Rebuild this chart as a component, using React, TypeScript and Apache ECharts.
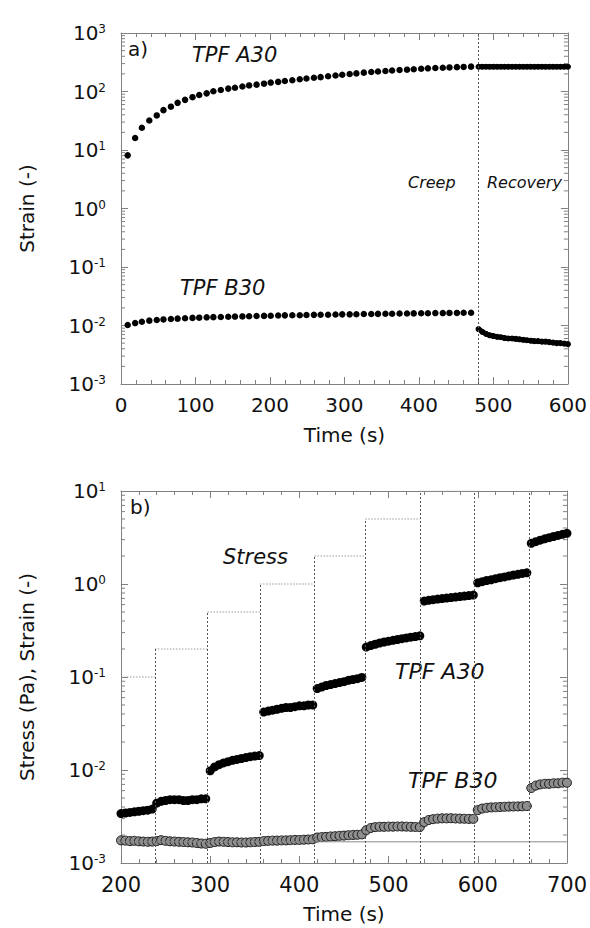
import React, { useEffect, useRef } from "react";
import * as echarts from "echarts";

const FONT = "DejaVu Sans";
const TXT = "#111111";
const AXC = "#808080";

// ---------- panel a) creep / recovery ----------
const creepTime = [9, 19, 28, 38, 48, 57, 67, 76, 86, 96, 105, 115, 124, 134, 144, 153, 163, 172, 182, 192,
  201, 211, 220, 230, 240, 249, 259, 268, 278, 288, 297, 307, 316, 326, 336, 345, 355, 364, 374, 384,
  393, 403, 412, 422, 432, 441, 451, 460, 470];
const creepA30 = [8.1, 16, 24, 32, 39, 48, 55, 64, 72, 80, 87, 93, 101, 106, 112, 116, 122, 127, 131, 136,
  142, 146, 151, 156, 162, 167, 172, 176, 182, 188, 193, 199, 204, 210, 215, 220, 224, 229, 233, 236,
  240, 245, 249, 252, 255, 258, 261, 263, 266];
const creepB30 = [0.0102, 0.0110, 0.0116, 0.0121, 0.0124, 0.0127, 0.0129, 0.0131, 0.0133, 0.0135,
  0.0136, 0.0138, 0.0139, 0.0140, 0.0141, 0.0142, 0.0143, 0.0144, 0.0145, 0.0146,
  0.0147, 0.0148, 0.0149, 0.0150, 0.0150, 0.0151, 0.0152, 0.0153, 0.0153, 0.0154,
  0.0155, 0.0155, 0.0156, 0.0157, 0.0157, 0.0158, 0.0159, 0.0159, 0.0160, 0.0160,
  0.0161, 0.0162, 0.0162, 0.0163, 0.0163, 0.0164, 0.0164, 0.0165, 0.0165];
const recTime = [480, 485, 490, 495, 500, 505, 510, 515, 520, 525, 530, 535, 540, 545, 550, 555, 560, 565,
  570, 575, 580, 585, 590, 595, 600];
const recA30 = [265, 265, 265, 265, 265, 265, 265, 265, 265, 265, 265, 265, 265, 265, 265, 265, 265, 265,
  265, 265, 265, 265, 265, 265, 265];
const recB30 = [0.0087, 0.0078, 0.0072, 0.0068, 0.0066, 0.0064, 0.0063, 0.0061, 0.0060, 0.0060, 0.0059,
  0.0058, 0.0057, 0.0056, 0.0055, 0.0054, 0.0054, 0.0053, 0.0053, 0.0052, 0.0051, 0.0050, 0.0050, 0.0049, 0.0048];
const creepEnd = 480;

// ---------- panel b) stress steps ----------
const stepTime = [200, 238, 297, 356, 417, 474, 535, 596, 658, 700];
const stressLevel = [0.1, 0.2, 0.5, 1, 2, 5, 10, 20, 50];
const baseStrain = 0.00169;

const bTime = [200, 205, 210, 215, 220, 225, 230, 235,
  240, 245, 250, 255, 260, 265, 270, 275, 280, 285, 290, 295,
  300, 305, 310, 315, 320, 325, 330, 335, 340, 345, 350, 355,
  360, 365, 370, 375, 380, 385, 390, 395, 400, 405, 410, 415,
  420, 425, 430, 435, 440, 445, 450, 455, 460, 465, 470,
  475, 480, 485, 490, 495, 500, 505, 510, 515, 520, 525, 530, 535,
  540, 545, 550, 555, 560, 565, 570, 575, 580, 585, 590, 595,
  600, 605, 610, 615, 620, 625, 630, 635, 640, 645, 650, 655,
  660, 665, 670, 675, 680, 685, 690, 695, 700];
const bA30 = [0.0034, 0.00345, 0.0035, 0.00355, 0.0036, 0.00365, 0.0037, 0.0038,
  0.0044, 0.0046, 0.0047, 0.0048, 0.0048, 0.0048, 0.0047, 0.0047, 0.0048, 0.0048, 0.0049, 0.0049,
  0.0098, 0.0108, 0.0114, 0.0119, 0.0123, 0.0127, 0.0130, 0.0133, 0.0136, 0.0139, 0.0141, 0.0143,
  0.042, 0.043, 0.044, 0.045, 0.046, 0.047, 0.047, 0.048, 0.049, 0.049, 0.050, 0.050,
  0.075, 0.078, 0.081, 0.083, 0.085, 0.087, 0.089, 0.092, 0.094, 0.096, 0.099,
  0.210, 0.218, 0.225, 0.232, 0.238, 0.243, 0.248, 0.253, 0.258, 0.263, 0.268, 0.272, 0.277,
  0.655, 0.668, 0.678, 0.688, 0.697, 0.706, 0.715, 0.724, 0.733, 0.742, 0.751, 0.760,
  1.03, 1.06, 1.09, 1.11, 1.14, 1.17, 1.19, 1.22, 1.25, 1.27, 1.30, 1.32,
  2.74, 2.85, 2.96, 3.06, 3.15, 3.24, 3.33, 3.42, 3.51];
const bB30 = [0.00175, 0.00174, 0.00172, 0.00173, 0.00171, 0.00170, 0.00169, 0.00170,
  0.00172, 0.00176, 0.00173, 0.00171, 0.00170, 0.00169, 0.00168, 0.00167, 0.00166, 0.00164, 0.00162, 0.00161,
  0.00164, 0.00168, 0.00170, 0.00169, 0.00168, 0.00167, 0.00167, 0.00166, 0.00166, 0.00167, 0.00168, 0.00169,
  0.00172, 0.00173, 0.00174, 0.00174, 0.00175, 0.00175, 0.00176, 0.00177, 0.00177, 0.00178, 0.00179, 0.00180,
  0.00188, 0.00190, 0.00191, 0.00193, 0.00194, 0.00196, 0.00197, 0.00199, 0.00200, 0.00201, 0.00203,
  0.00225, 0.00238, 0.00243, 0.00245, 0.00245, 0.00246, 0.00246, 0.00247, 0.00247, 0.00246, 0.00245, 0.00244, 0.00243,
  0.00275, 0.00290, 0.00296, 0.00300, 0.00302, 0.00302, 0.00303, 0.00301, 0.00300, 0.00299, 0.00298, 0.00298,
  0.00370, 0.00385, 0.00392, 0.00396, 0.00398, 0.00400, 0.00402, 0.00404, 0.00405, 0.00406, 0.00407, 0.00410,
  0.0064, 0.0068, 0.0070, 0.0071, 0.0071, 0.0072, 0.0072, 0.0073, 0.0073];

const zip = (xs: number[], ys: number[]) => xs.map((x, i) => [x, ys[i]]);

function minorLogTicks(minExp: number, maxExp: number): number[] {
  const out: number[] = [];
  for (let e = minExp; e < maxExp; e++) {
    for (let m = 2; m <= 9; m++) out.push(m * Math.pow(10, e));
  }
  return out;
}

const supLabel = (v: number) => {
  const e = Math.round(Math.log10(v));
  return `{b|10}{s|${e}}`;
};

export default function App() {
  const ref = useRef<HTMLDivElement>(null);
  useEffect(() => {
    if (!ref.current) return;
    const chart = echarts.init(ref.current, undefined, { renderer: "svg" });

    const rich = {
      b: { fontSize: 20, fontFamily: FONT, color: TXT },
      s: { fontSize: 12, fontFamily: FONT, color: TXT, verticalAlign: "top" },
    };
    const xBase = (gi: number, min: number, max: number, fs: number, withName: boolean) => ({
      type: "value",
      gridIndex: gi,
      position: "bottom",
      min,
      max,
      interval: 100,
      name: withName ? "Time (s)" : "",
      nameLocation: "middle",
      nameGap: 41,
      nameTextStyle: { fontSize: 20, fontFamily: FONT, color: TXT },
      axisLine: { show: true, onZero: false, lineStyle: { color: AXC, width: 1 } },
      axisTick: { show: true, inside: true, length: 7, lineStyle: { color: AXC } },
      minorTick: { show: true, splitNumber: 5, length: 4, lineStyle: { color: AXC } },
      axisLabel: { show: true, fontSize: fs, fontFamily: FONT, color: TXT, margin: 11 },
      splitLine: { show: false },
    });
    const xTop = (gi: number, min: number, max: number) => ({
      type: "value",
      gridIndex: gi,
      position: "top",
      min,
      max,
      interval: 100,
      axisLine: { show: true, onZero: false, lineStyle: { color: AXC, width: 1 } },
      axisTick: { show: true, inside: true, length: 7, lineStyle: { color: AXC } },
      minorTick: { show: true, splitNumber: 5, length: 4, lineStyle: { color: AXC } },
      axisLabel: { show: false },
      splitLine: { show: false },
    });
    const yLeft = (gi: number, min: number, max: number, split: number, name: string) => ({
      type: "log",
      logBase: 10,
      gridIndex: gi,
      position: "left",
      min,
      max,
      splitNumber: split,
      name,
      nameLocation: "middle",
      nameGap: 84,
      nameTextStyle: { fontSize: 20, fontFamily: FONT, color: TXT },
      axisLine: { show: true, onZero: false, lineStyle: { color: AXC, width: 1 } },
      axisTick: { show: true, inside: true, length: 7, lineStyle: { color: AXC } },
      axisLabel: { show: true, margin: 15, formatter: supLabel, rich },
      splitLine: { show: false },
    });
    const yRight = (gi: number, min: number, max: number, split: number) => ({
      type: "log",
      logBase: 10,
      gridIndex: gi,
      position: "right",
      min,
      max,
      splitNumber: split,
      axisLine: { show: true, onZero: false, lineStyle: { color: AXC, width: 1 } },
      axisTick: { show: true, inside: true, length: 7, lineStyle: { color: AXC } },
      axisLabel: { show: false },
      splitLine: { show: false },
    });

    const minorSeries = (xi: number, yi: number, xMin: number, vals: number[]) => ({
      type: "custom",
      xAxisIndex: xi,
      yAxisIndex: yi,
      silent: true,
      clip: false,
      z: 1,
      data: vals.map((v) => [xMin, v]),
      encode: { x: 0, y: 1 },
      renderItem: (params: any, api: any) => {
        const cs = params.coordSys;
        const p = api.coord([api.value(0), api.value(1)]);
        return {
          type: "group",
          children: [
            { type: "line", shape: { x1: cs.x, y1: p[1], x2: cs.x + 4, y2: p[1] }, style: { stroke: AXC, lineWidth: 1 } },
            { type: "line", shape: { x1: cs.x + cs.width, y1: p[1], x2: cs.x + cs.width - 4, y2: p[1] }, style: { stroke: AXC, lineWidth: 1 } },
          ],
        };
      },
    });

    // stress step line
    const stressData: any[] = [];
    stressLevel.forEach((lv, i) => {
      stressData.push([stepTime[i], lv]);
      stressData.push([stepTime[i + 1], lv]);
      if (i < stressLevel.length - 1) stressData.push([stepTime[i + 1], "-"]);
    });
    const stepMarks = stepTime.slice(1, stepTime.length - 1).map((t, i) => [
      { coord: [t, 0.001] },
      { coord: [t, Math.min(stressLevel[i + 1], 10)] },
    ]);

    const dotted = { color: "#555", width: 1, type: [2, 2] };

    const text = (x: number, y: number, s: string, size: number, italic: boolean) => ({
      type: "text",
      x,
      y,
      style: {
        text: s,
        fontSize: size,
        fontFamily: FONT,
        fontStyle: italic ? "italic" : "normal",
        fill: TXT,
        verticalAlign: "middle",
        align: "left",
      },
    });

    const denseLine = (name: string, xs: number[], ys: number[]) => ({
      name,
      type: "line",
      xAxisIndex: 0,
      yAxisIndex: 0,
      symbol: "circle",
      showSymbol: true,
      symbolSize: 6,
      itemStyle: { color: "#000", opacity: 1 },
      lineStyle: { color: "#000", width: 5, cap: "round" },
      data: zip(xs, ys),
    });

    chart.setOption({
      animation: false,
      backgroundColor: "#ffffff",
      grid: [
        { left: 121, top: 33, width: 448, height: 351 },
        { left: 121, top: 491, width: 446, height: 372 },
      ],
      xAxis: [xBase(0, 0, 600, 20, true), xTop(0, 0, 600), xBase(1, 200, 700, 21, true), xTop(1, 200, 700)],
      yAxis: [
        yLeft(0, 0.001, 1000, 6, "Strain (-)"),
        yRight(0, 0.001, 1000, 6),
        yLeft(1, 0.001, 10, 4, "Stress (Pa), Strain (-)"),
        yRight(1, 0.001, 10, 4),
      ],
      series: [
        minorSeries(0, 0, 0, minorLogTicks(-3, 3)),
        minorSeries(2, 2, 200, minorLogTicks(-3, 1)),
        {
          name: "TPF A30 creep",
          type: "scatter",
          xAxisIndex: 0,
          yAxisIndex: 0,
          symbolSize: 6.5,
          itemStyle: { color: "#000", opacity: 1 },
          data: zip(creepTime, creepA30),
          markLine: {
            silent: true,
            symbol: ["none", "none"],
            label: { show: false },
            lineStyle: dotted,
            data: [{ xAxis: creepEnd }],
          },
        },
        denseLine("TPF A30 recovery", recTime, recA30),
        { name: "TPF B30 creep", type: "scatter", xAxisIndex: 0, yAxisIndex: 0, symbolSize: 6.5, itemStyle: { color: "#000", opacity: 1 }, data: zip(creepTime, creepB30) },
        denseLine("TPF B30 recovery", recTime, recB30),
        {
          name: "Stress",
          type: "line",
          xAxisIndex: 2,
          yAxisIndex: 2,
          showSymbol: false,
          symbol: "none",
          connectNulls: false,
          lineStyle: { color: "#9a9a9a", width: 1, type: [1.5, 1.5] },
          data: stressData,
          markLine: {
            silent: true,
            symbol: ["none", "none"],
            label: { show: false },
            lineStyle: dotted,
            data: stepMarks,
          },
        },
        {
          name: "baseline",
          type: "line",
          xAxisIndex: 2,
          yAxisIndex: 2,
          showSymbol: false,
          symbol: "none",
          lineStyle: { color: "#8a8a8a", width: 1 },
          data: [[200, baseStrain], [700, baseStrain]],
        },
        {
          name: "TPF B30",
          type: "scatter",
          xAxisIndex: 2,
          yAxisIndex: 2,
          symbolSize: 9,
          itemStyle: { color: "#8e8e8e", borderColor: "#1a1a1a", borderWidth: 1, opacity: 1 },
          data: zip(bTime, bB30),
        },
        {
          name: "TPF A30",
          type: "scatter",
          xAxisIndex: 2,
          yAxisIndex: 2,
          symbolSize: 9,
          itemStyle: { color: "#000", opacity: 1 },
          data: zip(bTime, bA30),
        },
      ],
      graphic: [
        text(128, 49, "a)", 20, false),
        text(192, 55, "TPF A30", 21, true),
        text(408, 182, "Creep", 16, true),
        text(487, 182, "Recovery", 16, true),
        text(180, 288, "TPF B30", 21, true),
        text(130, 507, "b)", 20, false),
        text(223, 557, "Stress", 21, true),
        text(395, 671, "TPF A30", 22, true),
        text(408, 780, "TPF B30", 22, true),
      ],
    });
    return () => chart.dispose();
  }, []);
  return (
    <div
      ref={ref}
      style={{ position: "fixed", left: 0, top: 0, width: 590, height: 928, background: "#fff" }}
    />
  );
}
